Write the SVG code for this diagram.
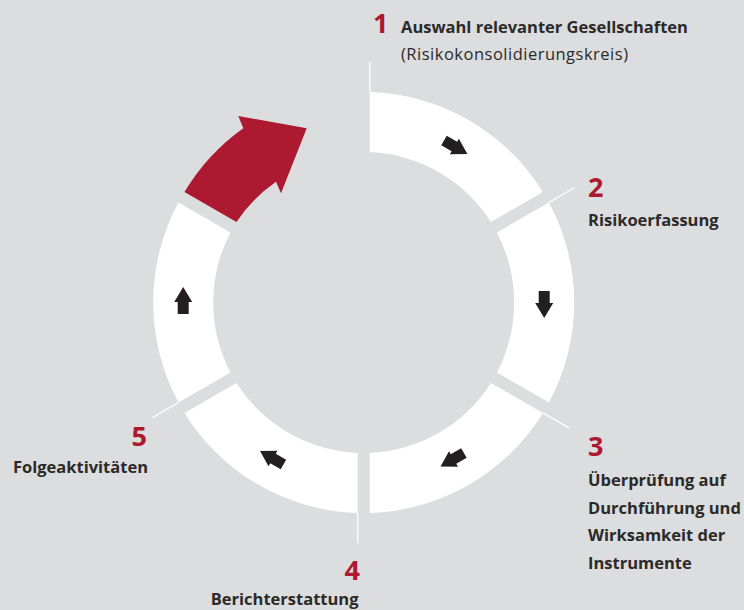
<svg xmlns="http://www.w3.org/2000/svg" width="744" height="610" viewBox="0 0 744 610">
<style>
.seg{fill:#ffffff}
.red{fill:#ad1930}
.lead{stroke:#ffffff;stroke-width:1.3;fill:none}
.ar{fill:#231f20}
.num{font-family:"Open Sans","Noto Sans",sans-serif;font-weight:700;font-size:27px;fill:#ad1930}
.lbl{font-family:"Open Sans","Noto Sans",sans-serif;font-weight:700;font-size:16.5px;fill:#2b2a29}
.sub{font-family:"Open Sans","Noto Sans",sans-serif;font-weight:400;font-size:16.5px;fill:#2b2a29}
</style>
<defs>
<polygon id="sa" points="-11.5,-5.5 0.5,-5.5 0.5,-9 15.5,0 0.5,9 0.5,5.5 -11.5,5.5"/>
</defs>
<rect x="0" y="0" width="744" height="610" fill="#dcddde"/>
<g id="connectors">
<line class="lead" x1="369.7" y1="92" x2="369.7" y2="62"/>
<line class="lead" x1="548.9" y1="202.5" x2="574.9" y2="187.5"/>
<line class="lead" x1="542.9" y1="412.9" x2="568.9" y2="427.9"/>
<line class="lead" x1="357.7" y1="512.9" x2="357.7" y2="542.9"/>
<line class="lead" x1="178.5" y1="402.5" x2="152.5" y2="417.5"/>
</g>
<g id="step1">
<path class="seg" d="M369.7,92.086 A210.5,210.5 0 0 1 542.924,192.097 L490.933,222.114 A150.5,150.5 0 0 0 369.7,152.12 Z"/>
<use href="#sa" class="ar" transform="translate(453.95,146.18) rotate(30)"/>
<text class="num" x="373" y="33">1</text>
<text class="lbl" x="401" y="33">Auswahl relevanter Gesellschaften</text>
<text class="sub" x="401" y="59.5" textLength="227" lengthAdjust="spacing">(Risikokonsolidierungskreis)</text>
</g>
<g id="step2">
<path class="seg" d="M548.924,202.489 A210.5,210.5 0 0 1 548.924,402.511 L496.933,372.494 A150.5,150.5 0 0 0 496.933,232.506 Z"/>
<use href="#sa" class="ar" transform="translate(544.2,302.5) rotate(90)"/>
<text class="num" x="588" y="197">2</text>
<text class="lbl" x="588" y="226">Risikoerfassung</text>
</g>
<g id="step3">
<path class="seg" d="M542.924,412.903 A210.5,210.5 0 0 1 369.7,512.914 L369.7,452.88 A150.5,150.5 0 0 0 490.933,382.886 Z"/>
<use href="#sa" class="ar" transform="translate(453.95,458.82) rotate(150)"/>
<text class="num" x="588" y="456">3</text>
<text class="lbl" x="588" y="486">Überprüfung auf</text>
<text class="lbl" x="588" y="513.5">Durchführung und</text>
<text class="lbl" x="588" y="541">Wirksamkeit der</text>
<text class="lbl" x="588" y="568.5">Instrumente</text>
</g>
<g id="step4">
<path class="seg" d="M357.7,512.914 A210.5,210.5 0 0 1 184.476,412.903 L236.467,382.886 A150.5,150.5 0 0 0 357.7,452.88 Z"/>
<use href="#sa" class="ar" transform="translate(273.45,458.82) rotate(210)"/>
<text class="num" x="360" y="579.5" text-anchor="end">4</text>
<text class="lbl" x="358.5" y="605" text-anchor="end">Berichterstattung</text>
</g>
<g id="step5">
<path class="seg" d="M178.476,402.511 A210.5,210.5 0 0 1 178.476,202.489 L230.467,232.506 A150.5,150.5 0 0 0 230.467,372.494 Z"/>
<use href="#sa" class="ar" transform="translate(183.2,302.5) rotate(270)"/>
<text class="num" x="147" y="445.7" text-anchor="end">5</text>
<text class="lbl" x="148" y="473.3" text-anchor="end">Folgeaktivitäten</text>
</g>
<g id="restart">
<path class="red" d="M184.476,192.097 A210.5,210.5 0 0 1 243.3,128.3 L238.3,116 L306.7,128.3 L281,193.3 L276,181.7 A150.5,150.5 0 0 0 236.467,222.114 Z"/>
</g>
</svg>
